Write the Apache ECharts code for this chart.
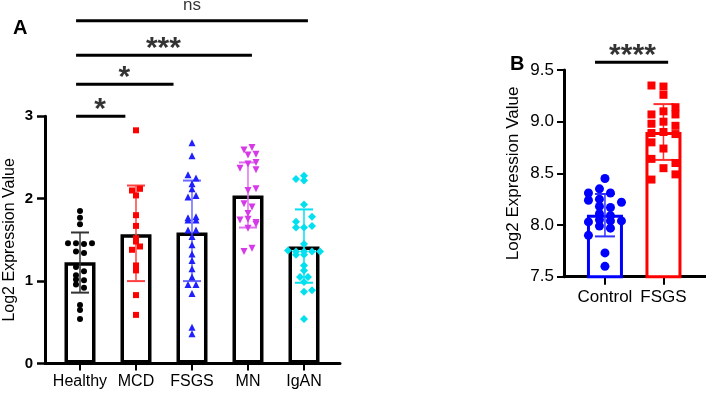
<!DOCTYPE html>
<html>
<head>
<meta charset="utf-8">
<script src="https://cdn.jsdelivr.net/npm/echarts@6/dist/echarts.min.js"></script>
<style>
  html, body { margin: 0; padding: 0; background: #fff; }
  #main { width: 706px; height: 395px; }
</style>
</head>
<body>
<div id="main"></div>
<script>
  // ---- panel A data ----
  const catsA = ['Healthy', 'MCD', 'FSGS', 'MN', 'IgAN'];
  const meanA = [1.23, 1.57, 1.59, 2.04, 1.42];
  const sdLowA = [0.86, 1.00, 1.00, 1.65, 0.98];
  const sdHighA = [1.59, 2.16, 2.22, 2.44, 1.87];
  // points: [column offset, value]
  const healthyPts = [[0,1.85],[0,1.77],[0,1.69],[-1.5,1.46],[-0.5,1.46],[0.5,1.45],[1.5,1.46],[-0.5,1.36],[0.5,1.34],
    [-0.5,1.17],[0.5,1.12],[-0.5,1.07],[0.5,1.01],[-0.5,1.02],[-0.5,0.96],[0.5,0.92],[0,0.71],[0,0.65],[0,0.54]];
  const mcdPts = [[0,2.83],[-0.5,2.10],[0.5,2.12],[0,2.04],[0,1.80],[0,1.67],[0,1.52],[0,1.48],[-0.5,1.38],[0.5,1.42],
    [0,1.19],[0,1.13],[0,0.83],[0,0.59]];
  const fsgsPts = [[0,2.68],[0,2.52],[-0.5,2.29],[0.5,2.25],[0,2.18],[0,2.12],[-0.5,2.02],[0.5,2.04],
    [-0.5,1.77],[0.5,1.78],[-0.5,1.74],[0.5,1.74],[-0.5,1.62],[0.5,1.62],[0,1.54],[0,1.44],[0,1.33],[0,1.25],
    [0,1.15],[0,1.05],[-0.5,0.96],[0.5,0.96],[0,0.85],[0,0.44],[0,0.36]];
  const mnPts = [[-0.5,2.59],[0.5,2.62],[0,2.53],[1,2.54],[-1,2.37],[1,2.44],[0,2.42],[1,2.35],[0,2.10],[1,2.12],
    [-0.5,1.94],[0.5,1.90],[0,1.82],[-1,1.74],[0,1.75],[1,1.71],[0,1.64],[1,1.69],[-0.5,1.36],[0.5,1.40]];
  const igaPts = [[-1,2.24],[0,2.28],[0,2.22],[0,1.93],[-1,1.72],[1,1.78],[0,1.65],[-1,1.65],[1,1.67],[0,1.45],
    [-2,1.37],[-1,1.36],[0,1.36],[1,1.36],[2,1.36],[-1,1.32],[0,1.32],[0,1.19],[0,1.13],[-0.5,1.05],[0.5,1.05],
    [0,0.99],[0,0.87],[1,0.89],[0,0.54]];
  const bracketStartA = [-0.07, -0.07, -0.07, -0.07];
  const bracketEndA = [0.81, 1.67, 3.07, 4.07];
  const bracketYA = [3.0, 3.39, 3.74, 4.16];
  const bracketTextA = ['*', '*', '***', 'ns'];
  const bracketTextXA = [0.36, 0.79, 1.49, 2.0];
  const bracketTextYA = [3.165, 3.553, 3.905, 4.35];

  // ---- panel B data ----
  const catsB = ['Control', 'FSGS'];
  const meanB = [8.10, 8.90];
  const sdLowB = [7.89, 8.63];
  const sdHighB = [8.30, 9.17];
  const controlPts = [[0,8.45],[-1.5,8.31],[-0.5,8.35],[0.5,8.31],[-1.5,8.24],[-0.5,8.25],[1.5,8.22],[-0.5,8.18],[0.5,8.17],
    [-0.5,8.11],[0.5,8.09],[-1.5,8.03],[-0.5,8.05],[0.5,8.04],[1.5,8.04],[-0.5,7.99],[0.5,7.97],[-1.5,7.90],[0,7.73],[0,7.60]];
  const fsgsBPts = [[-1,9.35],[0,9.34],[0,9.26],[1,9.14],[0,9.10],[-1,9.07],[1,9.07],[-1,8.98],[0,9.00],[1,8.96],
    [-1,8.89],[0,8.90],[1,8.88],[-1,8.80],[0,8.74],[-1,8.64],[1,8.60],[0,8.55],[-1,8.44],[1,8.49]];
  const bracketB = [-0.17, 1.08, 9.575];
  const bracketTextB = ['****', 0.47, 9.71];

  // ---- layout ----
  const unitA = 247.2 / 3;          // px per unit, panel A
  const unitB = 206.7 / 2;          // px per unit, panel B
  const stepA = 8 / 56;             // jitter column width (x units)
  const stepB = 11 / 58.5;
  const stepB2 = 12 / 58.5;

  const chart = echarts.init(document.getElementById('main'), null, { renderer: 'canvas' });

  function pts(list, idx, step) {
    return list.map(p => [idx + p[0] * step, p[1]]);
  }
  function errSeries(xi, yi, lo, hi, color, cap, lw) {
    return {
      type: 'custom', xAxisIndex: xi, yAxisIndex: yi, z: 4,
      data: lo.map((v, i) => [i, v, hi[i]]),
      renderItem: function (params, api) {
        const a = api.coord([api.value(0), api.value(1)]);
        const b = api.coord([api.value(0), api.value(2)]);
        const c = color[params.dataIndex];
        return { type: 'group', children: [
          { type: 'line', shape: { x1: a[0], y1: a[1], x2: b[0], y2: b[1] }, style: { stroke: c, lineWidth: lw } },
          { type: 'line', shape: { x1: a[0] - cap, y1: a[1], x2: a[0] + cap, y2: a[1] }, style: { stroke: c, lineWidth: lw + 0.5 } },
          { type: 'line', shape: { x1: b[0] - cap, y1: b[1], x2: b[0] + cap, y2: b[1] }, style: { stroke: c, lineWidth: lw + 0.5 } }
        ] };
      }
    };
  }
  function scatter(xi, yi, data, color, symbol, size, rotate) {
    return { type: 'scatter', xAxisIndex: xi, yAxisIndex: yi, data: data, symbol: symbol, symbolSize: size,
      symbolRotate: rotate || 0, itemStyle: { color: color, opacity: 1 }, z: 5, clip: false };
  }
  function bracketLine(xi, yi, x1, x2, y) {
    return { type: 'line', xAxisIndex: xi, yAxisIndex: yi, data: [[x1, y], [x2, y]], symbol: 'none',
      lineStyle: { color: '#000', width: 3 }, clip: false, z: 6 };
  }
  function bracketLabel(xi, yi, x, y, txt) {
    const star = txt !== 'ns';
    return { type: 'scatter', xAxisIndex: xi, yAxisIndex: yi, symbolSize: 0, clip: false, z: 7,
      data: [{ value: [x, y], name: txt }],
      label: { show: true, position: 'inside', formatter: '{b}', color: '#000',
        fontFamily: 'Liberation Sans, Arial, sans-serif',
        fontSize: star ? 30 : 17, fontWeight: star ? 'bold' : 'normal',
        offset: star ? [0, 7] : [0, 0] } };
  }

  const colorsA = ['#000000', '#ff0000', '#2020ff', '#d63ae8', '#00e0f0'];
  const errColorsA = ['#333333', '#ff4040', '#6a6aff', '#e070f0', '#00e0f0'];

  const series = [
    { type: 'bar', xAxisIndex: 0, yAxisIndex: 0, barWidth: 31, z: 2,
      data: meanA.map((v, i) => [i, v]),
      itemStyle: { color: '#fff', borderColor: '#000', borderWidth: 3.5 } },
    errSeries(0, 0, sdLowA, sdHighA, errColorsA, 9, 1.5),
    scatter(0, 0, pts(healthyPts, 0, stepA), colorsA[0], 'circle', 6),
    scatter(0, 0, pts(mcdPts, 1, stepA), colorsA[1], 'rect', 6),
    scatter(0, 0, pts(fsgsPts, 2, stepA), colorsA[2], 'triangle', 7),
    scatter(0, 0, pts(mnPts, 3, stepA), colorsA[3], 'triangle', 7, 180),
    scatter(0, 0, pts(igaPts, 4, stepA), colorsA[4], 'diamond', 8),
    { type: 'bar', xAxisIndex: 2, yAxisIndex: 2, barWidth: 36, z: 2,
      data: meanB.map((v, i) => ({ value: [i, v], itemStyle: { borderColor: i === 0 ? '#0000ff' : '#ff0000' } })),
      itemStyle: { color: '#fff', borderWidth: 3 } },
    errSeries(2, 2, sdLowB, sdHighB, ['#3030ff', '#ff3030'], 10, 1.5),
    scatter(2, 2, pts(controlPts, 0, stepB), '#0000ff', 'circle', 9),
    scatter(2, 2, pts(fsgsBPts, 1, stepB2), '#ff0000', 'rect', 8),
    bracketLine(3, 3, bracketB[0], bracketB[1], bracketB[2]),
    bracketLabel(3, 3, bracketTextB[1], bracketTextB[2], bracketTextB[0])
  ];
  for (let i = 0; i < bracketTextA.length; i++) {
    series.push(bracketLine(1, 1, bracketStartA[i], bracketEndA[i], bracketYA[i]));
    series.push(bracketLabel(1, 1, bracketTextXA[i], bracketTextYA[i], bracketTextA[i]));
  }

  const font = 'Liberation Sans, Arial, sans-serif';
  const option = {
    animation: false,
    backgroundColor: '#fff',
    textStyle: { fontFamily: font },
    title: [
      { text: 'A', left: 8, top: 13, textStyle: { fontSize: 20, fontWeight: 'bold', color: '#000', fontFamily: font } },
      { text: 'B', left: 505, top: 49, textStyle: { fontSize: 20, fontWeight: 'bold', color: '#000', fontFamily: font } }
    ],
    grid: [
      { left: 45, top: 116.3, width: 295, height: 247.2 },
      { left: 45, top: 0, width: 295, height: 116.3 },
      { left: 564, top: 70, width: 142, height: 206.7 },
      { left: 564, top: 0, width: 142, height: 70 }
    ],
    xAxis: [
      { gridIndex: 0, type: 'value', min: -0.625, max: 4.643, splitLine: { show: false },
        axisLine: { onZero: false, lineStyle: { color: '#000', width: 3 } },
        axisTick: { customValues: [0, 1, 2, 3, 4], length: 7, lineStyle: { color: '#000', width: 2 } },
        axisLabel: { customValues: [0, 1, 2, 3, 4], formatter: v => catsA[Math.round(v)], color: '#000', fontSize: 16, margin: 10 } },
      { gridIndex: 1, type: 'value', min: -0.625, max: 4.643, show: false },
      { gridIndex: 2, type: 'value', min: -0.70, max: 1.727, splitLine: { show: false },
        axisLine: { onZero: false, lineStyle: { color: '#000', width: 3 } },
        axisTick: { customValues: [0, 1], length: 8, lineStyle: { color: '#000', width: 2 } },
        axisLabel: { customValues: [0, 1], formatter: v => catsB[Math.round(v)], color: '#000', fontSize: 17, margin: 12 } },
      { gridIndex: 3, type: 'value', min: -0.70, max: 1.727, show: false }
    ],
    yAxis: [
      { gridIndex: 0, type: 'value', min: 0, max: 3, interval: 1, splitLine: { show: false },
        axisLine: { show: true, onZero: false, lineStyle: { color: '#000', width: 3 } },
        axisTick: { show: true, length: 8, lineStyle: { color: '#000', width: 2.5 } },
        axisLabel: { color: '#000', fontSize: 15, fontWeight: 'bold', margin: 12 },
        name: 'Log2 Expression Value', nameLocation: 'middle', nameGap: 27,
        nameTextStyle: { color: '#000', fontSize: 16 } },
      { gridIndex: 1, type: 'value', min: 3, max: 3 + 116.3 / unitA, show: false },
      { gridIndex: 2, type: 'value', min: 7.5, max: 9.5, interval: 0.5, splitLine: { show: false },
        axisLine: { show: true, onZero: false, lineStyle: { color: '#000', width: 3 } },
        axisTick: { show: true, length: 7, lineStyle: { color: '#000', width: 2 } },
        axisLabel: { color: '#000', fontSize: 17, margin: 10, formatter: v => v.toFixed(1) },
        name: 'Log2 Expression Value', nameLocation: 'middle', nameGap: 42,
        nameTextStyle: { color: '#000', fontSize: 17 } },
      { gridIndex: 3, type: 'value', min: 9.5, max: 9.5 + 70 / unitB, show: false }
    ],
    series: series
  };
  chart.setOption(option);
</script>
</body>
</html>
